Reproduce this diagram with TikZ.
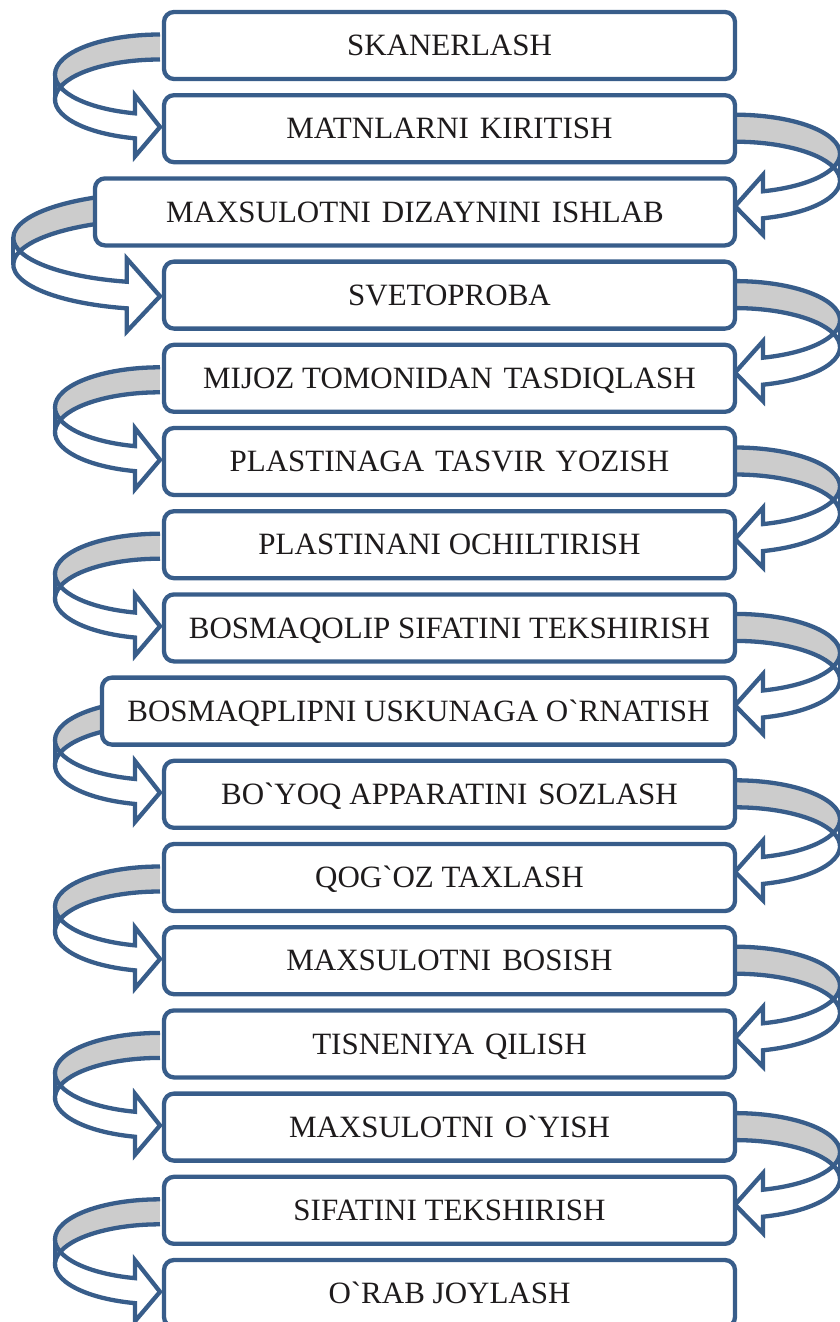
\documentclass[tikz,border=0pt]{standalone}
\usepackage{fontspec}
\setmainfont{Liberation Serif}
\usetikzlibrary{backgrounds}
\definecolor{bline}{HTML}{385D8A}
\definecolor{backc}{HTML}{CCCCCC}
\definecolor{txt}{HTML}{1E1B1C}
\newcommand\ws{\hspace{11pt}}
\newcommand\grv{\textasciigrave}
\tikzset{
  box/.style={draw=bline, line width=4.3pt, fill=white, rounded corners=10pt,
    inner sep=0pt, text=txt, font=\fontsize{31}{37}\selectfont,
    text height=20.5pt, text depth=0pt, minimum height=67pt},
  nbox/.style={box, minimum width=571pt},
  aline/.style={draw=bline, line width=4.3pt, line join=miter, miter limit=10},
}
% curved arrow: #1 w, #2 hR, #3 th, #4 aw, #5 ah, #6 Y0 (local coords, y down)
\newcommand\carrow[6]{%
  \pgfmathsetmacro\cw{#1}%
  \pgfmathsetmacro\chr{#2}%
  \pgfmathsetmacro\cth{#3}%
  \pgfmathsetmacro\caw{#4}%
  \pgfmathsetmacro\cah{#5}%
  \pgfmathsetmacro\cy{#6}%
  \pgfmathsetmacro\cphi{acos(\cah/\cw)}%
  \pgfmathsetmacro\cdy{\chr*sin(\cphi)}%
  \pgfmathsetmacro\cyv{\cy+\chr+\cdy}%
  \pgfmathsetmacro\cyw{\cyv+\cth}%
  \pgfmathsetmacro\cdh{(\caw-\cth)/2}%
  \pgfmathsetmacro\cyiv{\cyv-\cdh}%
  \pgfmathsetmacro\cyviii{\cyw+\cdh}%
  \pgfmathsetmacro\cyvi{\cy+2*\chr+\cth/2}%
  \pgfmathsetmacro\cxi{\cw-\cah}%
  \fill[backc] (\cw,\cy+\cth) arc[start angle=270,end angle=180,x radius=\cw,y radius=\chr]
    -- (0,\cy+\chr) arc[start angle=180,end angle=270,x radius=\cw,y radius=\chr] -- cycle;
  \fill[white] (0,\cy+\chr) arc[start angle=180,end angle=180-\cphi,x radius=\cw,y radius=\chr]
    -- (\cxi,\cyiv) -- (\cw,\cyvi) -- (\cxi,\cyviii) -- (\cxi,\cyw)
    arc[start angle=180-\cphi,end angle=180,x radius=\cw,y radius=\chr] -- cycle;
  \draw[aline] (\cw,\cy) arc[start angle=270,end angle=180-\cphi,x radius=\cw,y radius=\chr]
    -- (\cxi,\cyiv) -- (\cw,\cyvi) -- (\cxi,\cyviii) -- (\cxi,\cyw)
    arc[start angle=180-\cphi,end angle=270,x radius=\cw,y radius=\chr];
  \draw[aline] (0,\cy+\chr) -- (0,\cy+\chr+\cth);
}
\begin{document}
\begin{tikzpicture}[x=1pt,y=-1pt]
\useasboundingbox (0,0) rectangle (839,1322);
\node[nbox] (b1) at (449.5,45.5) {SKANERLASH};
\node[nbox] (b2) at (449.5,128.7) {MATNLARNI\ws KIRITISH};
\node[box, minimum width=640pt] (b3) at (415,211.9) {MAXSULOTNI\ws DIZAYNINI\ws ISHLAB};
\node[nbox] (b4) at (449.5,295.1) {SVETOPROBA};
\node[nbox] (b5) at (449.5,378.3) {MIJOZ TOMONIDAN\ws TASDIQLASH};
\node[nbox] (b6) at (449.5,461.5) {PLASTINAGA\ws TASVIR\ws YOZISH};
\node[nbox] (b7) at (449.5,544.7) {PLASTINANI OCHILTIRISH};
\node[nbox] (b8) at (449.5,627.9) {BOSMAQOLIP SIFATINI TEKSHIRISH};
\node[box, minimum width=633pt] (b9) at (418.5,711.1) {BOSMAQPLIPNI USKUNAGA O\grv RNATISH};
\node[nbox] (b10) at (449.5,794.3) {BO\grv YOQ APPARATINI\ws SOZLASH};
\node[nbox] (b11) at (449.5,877.5) {QOG\grv OZ TAXLASH};
\node[nbox] (b12) at (449.5,960.7) {MAXSULOTNI\ws BOSISH};
\node[nbox] (b13) at (449.5,1043.9) {TISNENIYA\ws QILISH};
\node[nbox] (b14) at (449.5,1127.1) {MAXSULOTNI\ws O\grv YISH};
\node[nbox] (b15) at (449.5,1210.3) {SIFATINI TEKSHIRISH};
\node[nbox] (b16) at (449.5,1293.5) {O\grv RAB JOYLASH};
\begin{scope}[on background layer]
  \coordinate (lx) at (55,0);
  \coordinate (lxb) at (13.3,0);
  \coordinate (rx) at (840,0);
  \foreach \s in {b1,b5,b7,b9,b11,b13,b15}{
    \begin{scope}[shift={(\s.center -| lx)}]
      \carrow{105}{40}{25}{61}{25}{-11}
    \end{scope}
  }
  \begin{scope}[shift={(b3.center -| lxb)}]
    \carrow{146.7}{45}{26.6}{73}{33.3}{-19}
  \end{scope}
  \foreach \s in {b2,b4,b6,b8,b10,b12,b14}{
    \begin{scope}[shift={(\s.center -| rx)}, xscale=-1]
      \carrow{105}{39}{27}{60}{28}{-14}
    \end{scope}
  }
\end{scope}
\end{tikzpicture}
\end{document}
